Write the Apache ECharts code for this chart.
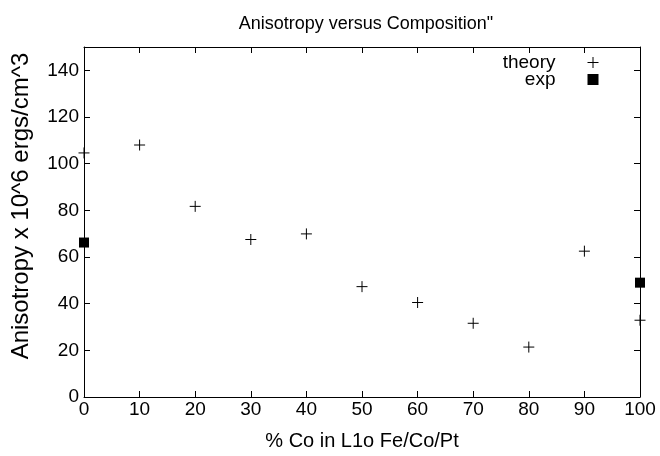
<!DOCTYPE html>
<html>
<head>
<meta charset="utf-8">
<script src="https://cdn.jsdelivr.net/npm/echarts@6/dist/echarts.min.js"></script>
<style>
  html, body { margin: 0; padding: 0; background: #fff; }
  #chart { width: 660px; height: 456px; }
</style>
</head>
<body>
<div id="chart"></div>
<script>
// percent Co, values
var theoryX = [0, 10, 20, 30, 40, 50, 60, 70, 80, 90, 100];
var theoryY = [104.6, 108, 81.7, 67.5, 69.9, 47.3, 40.5, 31.6, 21.4, 62.5, 32.9];
var expX = [0, 100];
var expY = [66.2, 49];

var font = 'Liberation Sans, Arial, sans-serif';
var plusPath = 'path://M0,5L10,5M5,0L5,10';

var chart = echarts.init(document.getElementById('chart'));

function pairs(xs, ys) {
    return xs.map(function (x, i) { return [x, ys[i]]; });
}

var baseX = {
    type: 'value', min: 0, max: 100, interval: 10,
    axisLine: {onZero: false, lineStyle: {color: '#000', width: 1}},
    axisTick: {inside: true, length: 6, lineStyle: {color: '#000'}},
    splitLine: {show: false}
};
var baseY = {
    type: 'value', min: 0, max: 150, interval: 20,
    axisLine: {onZero: false, lineStyle: {color: '#000', width: 1}},
    axisTick: {inside: true, length: 6, lineStyle: {color: '#000'}},
    splitLine: {show: false}
};

var option = {
    animation: false,
    backgroundColor: '#fff',
    textStyle: {fontFamily: font},
    title: {
        text: 'Anisotropy versus Composition"',
        left: 361, top: 10, textAlign: 'center',
        textStyle: {fontFamily: font, fontSize: 18, fontWeight: 'normal', color: '#000'}
    },
    grid: {left: 84, right: 20, top: 47, bottom: 57},
    legend: {
        orient: 'vertical', right: 54, top: 48,
        align: 'right', itemGap: -2, itemWidth: 11, itemHeight: 11,
        textStyle: {fontFamily: font, fontSize: 19, lineHeight: 17, color: '#000', padding: [0, 27, 0, 0]},
        data: [
            {name: 'theory', icon: plusPath, itemStyle: {color: 'none', borderColor: '#000', borderWidth: 1, opacity: 1}},
            {name: 'exp', icon: 'rect', itemStyle: {color: '#000', opacity: 1}}
        ]
    },
    xAxis: [
        Object.assign({}, baseX, {
            position: 'bottom',
            name: '% Co in L1o Fe/Co/Pt', nameLocation: 'middle', nameGap: 34,
            nameTextStyle: {fontFamily: font, fontSize: 20, color: '#000'},
            axisLabel: {color: '#000', fontSize: 19, fontFamily: font, margin: 3}
        }),
        Object.assign({}, baseX, {position: 'top', axisLabel: {show: false}})
    ],
    yAxis: [
        Object.assign({}, baseY, {
            position: 'left',
            name: 'Anisotropy x 10^6 ergs/cm^3', nameLocation: 'middle', nameGap: 51,
            nameTextStyle: {fontFamily: font, fontSize: 24, color: '#000', padding: [0, 0, 0, 32]},
            axisLabel: {color: '#000', fontSize: 19, fontFamily: font, margin: 5, showMaxLabel: false}
        }),
        Object.assign({}, baseY, {position: 'right', axisLabel: {show: false}})
    ],
    series: [
        {
            name: 'theory', type: 'scatter', clip: false,
            symbol: plusPath, symbolSize: 11,
            itemStyle: {color: 'none', borderColor: '#000', borderWidth: 1, opacity: 1},
            data: pairs(theoryX, theoryY)
        },
        {
            name: 'exp', type: 'scatter', clip: false,
            symbol: 'rect', symbolSize: 10,
            itemStyle: {color: '#000', opacity: 1},
            data: pairs(expX, expY)
        }
    ]
};

chart.setOption(option);
</script>
</body>
</html>
